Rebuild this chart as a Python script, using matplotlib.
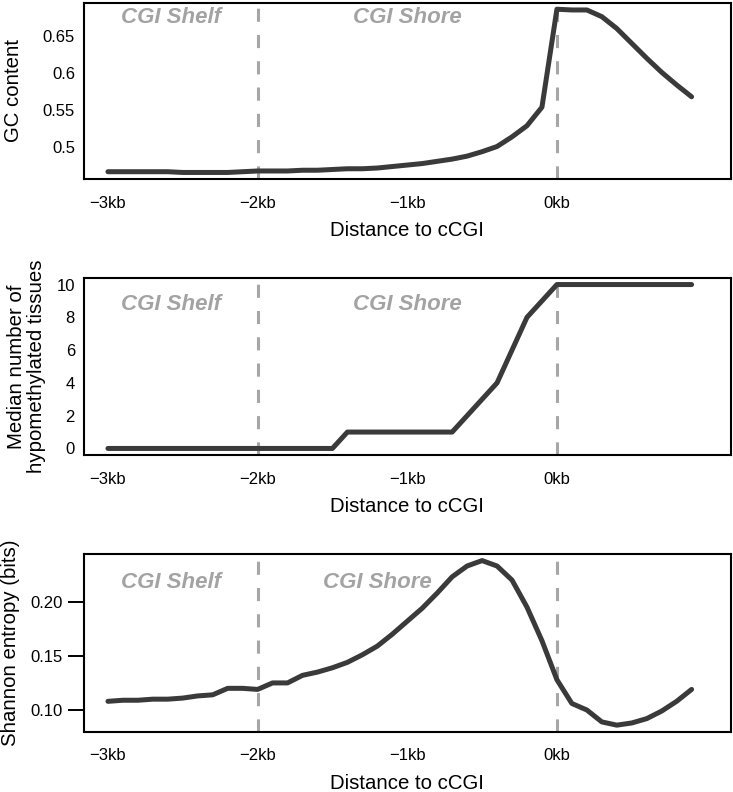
import matplotlib
matplotlib.use("Agg")
import matplotlib.pyplot as plt

plt.rcParams["font.family"] = ["Liberation Sans", "DejaVu Sans"]

# distance to cCGI in kb, 0.1 kb bins
distance_kb = [round(-3.0 + 0.1 * i, 1) for i in range(40)]

gc_content = [
    0.467, 0.467, 0.467, 0.467, 0.467, 0.466, 0.466, 0.466, 0.466, 0.467,
    0.468, 0.468, 0.468, 0.469, 0.469, 0.470, 0.471, 0.471, 0.472, 0.474,
    0.476, 0.478, 0.481, 0.484, 0.488, 0.494, 0.501, 0.514, 0.529, 0.554,
    0.686, 0.685, 0.685, 0.676, 0.660, 0.640, 0.620, 0.601, 0.584, 0.568,
]

hypo_tissues = [
    0, 0, 0, 0, 0, 0, 0, 0, 0, 0,
    0, 0, 0, 0, 0, 0, 1, 1, 1, 1,
    1, 1, 1, 1, 2, 3, 4, 6, 8, 9,
    10, 10, 10, 10, 10, 10, 10, 10, 10, 10,
]

shannon_entropy = [
    0.108, 0.109, 0.109, 0.110, 0.110, 0.111, 0.113, 0.114, 0.120, 0.120,
    0.119, 0.125, 0.125, 0.132, 0.135, 0.139, 0.144, 0.151, 0.159, 0.170,
    0.182, 0.194, 0.208, 0.223, 0.233, 0.238, 0.233, 0.220, 0.195, 0.164,
    0.128, 0.106, 0.100, 0.089, 0.086, 0.088, 0.092, 0.099, 0.108, 0.119,
]

x_ticks = [-3, -2, -1, 0]
x_tick_labels = ["\u22123kb", "\u22122kb", "\u22121kb", "0kb"]

panels = [
    {
        "values": gc_content,
        "ylabel": "GC content",
        "yticks": [0.5, 0.55, 0.6, 0.65],
        "yticklabels": ["0.5", "0.55", "0.6", "0.65"],
        "ytick_len": 0,
        "shore_x": -1.0,
        "text_y": 0.883,
        "ylabel_x": -0.095,
        "rect": [0.1146, 0.774, 0.882, 0.2226],
    },
    {
        "values": hypo_tissues,
        "ylabel": "Median number of\nhypomethylated tissues",
        "yticks": [0, 2, 4, 6, 8, 10],
        "yticklabels": ["0", "2", "4", "6", "8", "10"],
        "ytick_len": 0,
        "shore_x": -1.0,
        "text_y": 0.819,
        "ylabel_x": -0.059,
        "rect": [0.1146, 0.4255, 0.882, 0.2235],
    },
    {
        "values": shannon_entropy,
        "ylabel": "Shannon entropy (bits)",
        "yticks": [0.10, 0.15, 0.20],
        "yticklabels": ["0.10", "0.15", "0.20"],
        "ytick_len": 11.5,
        "shore_x": -1.2,
        "text_y": 0.809,
        "ylabel_x": -0.099,
        "rect": [0.1146, 0.0761, 0.882, 0.2244],
    },
]

line_color = "#3a3a3a"
label_grey = "#a3a3a3"

fig = plt.figure(figsize=(7.33, 7.92), dpi=100)

for panel in panels:
    ax = fig.add_axes(panel["rect"])
    values = panel["values"]
    ax.plot(distance_kb, values, color=line_color, lw=3.6,
            solid_capstyle="round", solid_joinstyle="round", zorder=3)

    lo, hi = min(values), max(values)
    pad = 0.04 * (hi - lo)
    ax.set_ylim(lo - pad, hi + pad)
    ax.set_xlim(-3.16, 1.16)

    for xv in (-2, 0):
        ax.axvline(xv, color="#a6a6a6", lw=2.2, dashes=(4.3, 4.3), zorder=2)

    ax.text(-2.58, panel["text_y"], "CGI Shelf", transform=ax.get_xaxis_transform(),
            ha="center", va="baseline", fontsize=16, fontweight="bold",
            fontstyle="italic", color=label_grey)
    ax.text(panel["shore_x"], panel["text_y"], "CGI Shore",
            transform=ax.get_xaxis_transform(),
            ha="center", va="baseline", fontsize=16, fontweight="bold",
            fontstyle="italic", color=label_grey)

    ax.set_xticks(x_ticks)
    ax.set_xticklabels(x_tick_labels)
    ax.set_yticks(panel["yticks"])
    ax.set_yticklabels(panel["yticklabels"])
    ax.tick_params(axis="x", length=0, labelsize=12, pad=12)
    if panel["ytick_len"]:
        ax.tick_params(axis="y", length=panel["ytick_len"], width=1.4,
                       labelsize=12, pad=4)
    else:
        ax.tick_params(axis="y", length=0, labelsize=12, pad=6.5)

    ax.set_xlabel("Distance to cCGI", fontsize=14.7)
    ax.xaxis.set_label_coords(0.5, -0.237)
    ax.set_ylabel(panel["ylabel"], fontsize=14.7, linespacing=1.05)
    ax.yaxis.set_label_coords(panel["ylabel_x"], 0.5)

    for spine in ax.spines.values():
        spine.set_linewidth(1.5)
        spine.set_color("black")

fig.savefig("out.png", dpi=100)
